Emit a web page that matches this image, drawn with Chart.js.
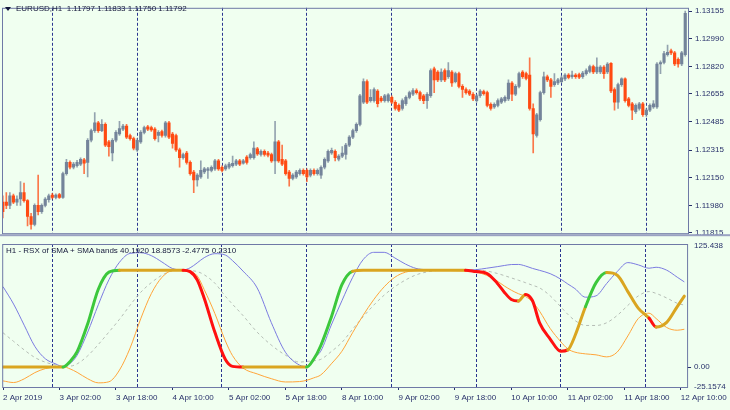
<!DOCTYPE html>
<html>
<head>
<meta charset="utf-8">
<script src="https://cdn.jsdelivr.net/npm/chart.js@4.4.1/dist/chart.umd.min.js"></script>
<style>
  html, body { margin: 0; padding: 0; background: #F0FFF0; }
  #wrap { position: relative; width: 730px; height: 410px; overflow: hidden; background: #F0FFF0; }
  canvas { position: absolute; left: 0; }
  #priceCanvas { top: 0; }
  #rsxCanvas { top: 236px; }
  .lbl { position: absolute; font: 8px "Liberation Sans", Arial, sans-serif; color: #14183a; white-space: pre; line-height: 10px; }
  .tri { position: absolute; left: 5px; top: 7px; width: 0; height: 0;
         border-left: 3px solid transparent; border-right: 3px solid transparent; border-top: 4px solid #14183a; }
</style>
</head>
<body>
<div id="wrap">
  <canvas id="priceCanvas" width="730" height="241"></canvas>
  <canvas id="rsxCanvas" width="730" height="174"></canvas>
  <div class="tri"></div>
  <div class="lbl" style="left:16px;top:4px;">EURUSD,H1  1.11797 1.11833 1.11750 1.11792</div>
  <div class="lbl" style="left:6px;top:246px;">H1 - RSX of SMA + SMA bands 40.1920 18.8573 -2.4775 0.2310</div>
</div>
<script>
// EURUSD H1 candles, 2 Apr 10:00 .. 12 Apr 11:00 (bar index = position)
var opens = [
  1.12000, 1.12000, 1.11980, 1.12038, 1.12000, 1.12019, 1.12057, 1.12009, 1.11913, 1.11865,
  1.11980, 1.11942, 1.11980, 1.12015, 1.12042, 1.12028, 1.12046, 1.12028, 1.12172, 1.12240,
  1.12211, 1.12220, 1.12230, 1.12255, 1.12240, 1.12374, 1.12432, 1.12480, 1.12432, 1.12470,
  1.12364, 1.12297, 1.12374, 1.12412, 1.12441, 1.12460, 1.12403, 1.12384, 1.12316, 1.12364,
  1.12422, 1.12455, 1.12451, 1.12441, 1.12403, 1.12426, 1.12403, 1.12480, 1.12412, 1.12403,
  1.12316, 1.12268, 1.12297, 1.12240, 1.12182, 1.12134, 1.12153, 1.12182, 1.12192, 1.12192,
  1.12201, 1.12249, 1.12211, 1.12201, 1.12211, 1.12220, 1.12230, 1.12249, 1.12236, 1.12272,
  1.12268, 1.12268, 1.12322, 1.12288, 1.12307, 1.12297, 1.12288, 1.12249, 1.12364, 1.12259,
  1.12249, 1.12182, 1.12144, 1.12153, 1.12172, 1.12192, 1.12192, 1.12163, 1.12192, 1.12172,
  1.12163, 1.12211, 1.12249, 1.12297, 1.12307, 1.12259, 1.12278, 1.12288, 1.12345, 1.12393,
  1.12432, 1.12470, 1.12604, 1.12729, 1.12614, 1.12614, 1.12672, 1.12629, 1.12614, 1.12614,
  1.12633, 1.12604, 1.12585, 1.12566, 1.12595, 1.12633, 1.12652, 1.12675, 1.12662, 1.12643,
  1.12614, 1.12643, 1.12806, 1.12787, 1.12739, 1.12796, 1.12758, 1.12787, 1.12729, 1.12777,
  1.12700, 1.12681, 1.12672, 1.12652, 1.12614, 1.12643, 1.12668, 1.12662, 1.12591, 1.12576,
  1.12585, 1.12604, 1.12614, 1.12624, 1.12720, 1.12652, 1.12700, 1.12787, 1.12777, 1.12768,
  1.12566, 1.12403, 1.12499, 1.12662, 1.12758, 1.12739, 1.12710, 1.12720, 1.12729, 1.12745,
  1.12768, 1.12758, 1.12768, 1.12771, 1.12758, 1.12777, 1.12791, 1.12819, 1.12787, 1.12787,
  1.12816, 1.12787, 1.12839, 1.12681, 1.12604, 1.12710, 1.12745, 1.12624, 1.12595, 1.12547,
  1.12566, 1.12595, 1.12528, 1.12556, 1.12576, 1.12576, 1.12835, 1.12844, 1.12892, 1.12915,
  1.12902, 1.12864, 1.12835, 1.12892
];
var highs = [
  1.12038, 1.12057, 1.12057, 1.12048, 1.12038, 1.12124, 1.12115, 1.12015, 1.11932, 1.11990,
  1.12163, 1.11990, 1.12028, 1.12048, 1.12053, 1.12050, 1.12053, 1.12182, 1.12259, 1.12249,
  1.12240, 1.12253, 1.12268, 1.12265, 1.12384, 1.12441, 1.12541, 1.12489, 1.12499, 1.12480,
  1.12374, 1.12384, 1.12432, 1.12489, 1.12470, 1.12470, 1.12412, 1.12393, 1.12384, 1.12432,
  1.12460, 1.12464, 1.12460, 1.12451, 1.12432, 1.12435, 1.12489, 1.12489, 1.12422, 1.12412,
  1.12326, 1.12297, 1.12307, 1.12249, 1.12192, 1.12172, 1.12249, 1.12211, 1.12211, 1.12220,
  1.12259, 1.12259, 1.12220, 1.12230, 1.12240, 1.12278, 1.12259, 1.12259, 1.12259, 1.12282,
  1.12297, 1.12364, 1.12332, 1.12316, 1.12316, 1.12307, 1.12297, 1.12489, 1.12374, 1.12345,
  1.12259, 1.12192, 1.12172, 1.12192, 1.12201, 1.12201, 1.12201, 1.12201, 1.12201, 1.12201,
  1.12220, 1.12268, 1.12316, 1.12326, 1.12316, 1.12288, 1.12336, 1.12355, 1.12403, 1.12441,
  1.12480, 1.12652, 1.12745, 1.12739, 1.12681, 1.12691, 1.12681, 1.12639, 1.12652, 1.12656,
  1.12643, 1.12614, 1.12595, 1.12624, 1.12643, 1.12672, 1.12687, 1.12685, 1.12672, 1.12652,
  1.12662, 1.12806, 1.12816, 1.12796, 1.12806, 1.12806, 1.12844, 1.12796, 1.12787, 1.12787,
  1.12710, 1.12691, 1.12681, 1.12662, 1.12652, 1.12681, 1.12677, 1.12672, 1.12601, 1.12601,
  1.12624, 1.12633, 1.12643, 1.12739, 1.12729, 1.12710, 1.12787, 1.12796, 1.12787, 1.12873,
  1.12595, 1.12537, 1.12672, 1.12787, 1.12768, 1.12748, 1.12777, 1.12748, 1.12764, 1.12777,
  1.12777, 1.12793, 1.12777, 1.12781, 1.12791, 1.12806, 1.12829, 1.12829, 1.12873, 1.12825,
  1.12825, 1.12844, 1.12844, 1.12691, 1.12720, 1.12752, 1.12752, 1.12633, 1.12604, 1.12595,
  1.12604, 1.12604, 1.12566, 1.12595, 1.12614, 1.12844, 1.12854, 1.12912, 1.12950, 1.12925,
  1.12912, 1.12873, 1.12912, 1.13155
];
var lows = [
  1.11904, 1.11961, 1.11961, 1.11990, 1.11980, 1.11980, 1.12000, 1.11856, 1.11836, 1.11856,
  1.11923, 1.11932, 1.11971, 1.12000, 1.12019, 1.12019, 1.12023, 1.12023, 1.12163, 1.12201,
  1.12201, 1.12211, 1.12220, 1.12172, 1.12153, 1.12364, 1.12422, 1.12422, 1.12426, 1.12336,
  1.12278, 1.12249, 1.12364, 1.12403, 1.12432, 1.12384, 1.12374, 1.12316, 1.12307, 1.12355,
  1.12412, 1.12432, 1.12428, 1.12374, 1.12364, 1.12393, 1.12393, 1.12384, 1.12326, 1.12307,
  1.12211, 1.12259, 1.12230, 1.12163, 1.12057, 1.12096, 1.12144, 1.12172, 1.12144, 1.12182,
  1.12192, 1.12192, 1.12182, 1.12192, 1.12201, 1.12211, 1.12220, 1.12220, 1.12230, 1.12230,
  1.12259, 1.12259, 1.12282, 1.12278, 1.12278, 1.12274, 1.12240, 1.12172, 1.12240, 1.12220,
  1.12163, 1.12096, 1.12134, 1.12144, 1.12163, 1.12163, 1.12124, 1.12153, 1.12163, 1.12163,
  1.12144, 1.12201, 1.12240, 1.12288, 1.12249, 1.12249, 1.12268, 1.12259, 1.12336, 1.12384,
  1.12422, 1.12460, 1.12595, 1.12595, 1.12604, 1.12604, 1.12576, 1.12604, 1.12604, 1.12604,
  1.12595, 1.12556, 1.12547, 1.12556, 1.12585, 1.12624, 1.12643, 1.12652, 1.12614, 1.12595,
  1.12566, 1.12633, 1.12662, 1.12729, 1.12729, 1.12729, 1.12748, 1.12700, 1.12720, 1.12691,
  1.12633, 1.12652, 1.12643, 1.12614, 1.12604, 1.12633, 1.12647, 1.12576, 1.12556, 1.12566,
  1.12576, 1.12595, 1.12604, 1.12614, 1.12614, 1.12643, 1.12691, 1.12748, 1.12739, 1.12556,
  1.12297, 1.12393, 1.12489, 1.12652, 1.12729, 1.12633, 1.12700, 1.12710, 1.12720, 1.12735,
  1.12745, 1.12748, 1.12748, 1.12747, 1.12748, 1.12768, 1.12781, 1.12777, 1.12777, 1.12777,
  1.12748, 1.12777, 1.12662, 1.12556, 1.12566, 1.12700, 1.12604, 1.12576, 1.12499, 1.12537,
  1.12556, 1.12518, 1.12518, 1.12547, 1.12566, 1.12566, 1.12777, 1.12835, 1.12883, 1.12892,
  1.12825, 1.12816, 1.12825, 1.12883
];
var closes = [
  1.11942, 1.11980, 1.12038, 1.12000, 1.12019, 1.12057, 1.12009, 1.11913, 1.11865, 1.11980,
  1.11942, 1.11980, 1.12019, 1.12038, 1.12028, 1.12042, 1.12028, 1.12172, 1.12240, 1.12211,
  1.12230, 1.12240, 1.12259, 1.12236, 1.12374, 1.12432, 1.12480, 1.12432, 1.12470, 1.12345,
  1.12336, 1.12374, 1.12422, 1.12445, 1.12460, 1.12393, 1.12384, 1.12326, 1.12374, 1.12422,
  1.12451, 1.12441, 1.12437, 1.12384, 1.12422, 1.12403, 1.12480, 1.12393, 1.12355, 1.12316,
  1.12268, 1.12288, 1.12240, 1.12172, 1.12134, 1.12163, 1.12192, 1.12201, 1.12201, 1.12211,
  1.12249, 1.12201, 1.12192, 1.12220, 1.12230, 1.12234, 1.12249, 1.12230, 1.12249, 1.12240,
  1.12288, 1.12326, 1.12291, 1.12307, 1.12288, 1.12284, 1.12249, 1.12364, 1.12249, 1.12230,
  1.12172, 1.12144, 1.12163, 1.12182, 1.12192, 1.12172, 1.12153, 1.12192, 1.12172, 1.12192,
  1.12211, 1.12259, 1.12307, 1.12313, 1.12268, 1.12278, 1.12297, 1.12345, 1.12393, 1.12432,
  1.12470, 1.12643, 1.12729, 1.12604, 1.12633, 1.12681, 1.12595, 1.12614, 1.12643, 1.12649,
  1.12604, 1.12566, 1.12556, 1.12614, 1.12633, 1.12662, 1.12675, 1.12662, 1.12624, 1.12614,
  1.12652, 1.12796, 1.12739, 1.12739, 1.12787, 1.12739, 1.12796, 1.12720, 1.12777, 1.12700,
  1.12681, 1.12662, 1.12652, 1.12624, 1.12643, 1.12672, 1.12656, 1.12585, 1.12566, 1.12591,
  1.12614, 1.12624, 1.12633, 1.12720, 1.12652, 1.12700, 1.12777, 1.12758, 1.12748, 1.12566,
  1.12412, 1.12528, 1.12662, 1.12758, 1.12739, 1.12700, 1.12729, 1.12739, 1.12752, 1.12768,
  1.12754, 1.12768, 1.12758, 1.12756, 1.12781, 1.12796, 1.12819, 1.12787, 1.12816, 1.12816,
  1.12777, 1.12835, 1.12672, 1.12604, 1.12710, 1.12745, 1.12614, 1.12585, 1.12556, 1.12585,
  1.12595, 1.12528, 1.12556, 1.12585, 1.12595, 1.12835, 1.12844, 1.12898, 1.12906, 1.12902,
  1.12835, 1.12835, 1.12902, 1.13142
];

// midnight separators and time axis labels (bar indexes)
var dayBreakBars = [14, 38, 62, 86, 110, 134, 158, 182];
var timeLabelBars = [0, 16, 32, 48, 64, 80, 96, 112, 128, 144, 160, 176, 192];
var timeLabels = ['2 Apr 2019', '3 Apr 02:00', '3 Apr 18:00', '4 Apr 10:00', '5 Apr 02:00', '5 Apr 18:00',
  '8 Apr 10:00', '9 Apr 02:00', '9 Apr 18:00', '10 Apr 10:00', '11 Apr 02:00', '11 Apr 18:00', '12 Apr 10:00'];
var priceTicks = [1.13155, 1.12990, 1.12820, 1.12655, 1.12485, 1.12315, 1.12150, 1.11980, 1.11815];

// RSX sub-window, sampled at these bars
var subBars = [0, 3, 6, 9, 12, 15, 17, 19, 21, 24, 27, 30, 33, 36, 39, 42, 45, 48, 51, 53,
  55, 57, 60, 63, 65, 68, 72, 76, 80, 84, 86, 88, 90, 93, 96, 99, 102, 105, 108, 111,
  114, 117, 120, 123, 126, 129, 131, 134, 137, 140, 142, 144, 146, 148, 150, 152, 155, 158, 160, 162,
  165, 168, 171, 174, 177, 180, 183, 185, 188, 191, 193];
var rsx = [0, 0, 0, 0, 0, 0, 0, 5.8, 15.9, 44.7, 80.3, 98.0, 100, 100, 100, 100, 100, 100, 100, 98.5,
  90.1, 71.0, 36.1, 7.7, 0.7, 0, 0, 0, 0, 0, 0, 8, 22, 51.5, 85, 98.8, 100, 100, 100, 100,
  100, 100, 100, 100, 100, 100, 100, 98.5, 96.8, 86.6, 77.3, 69.7, 68.2, 75.0, 68.4, 45.6, 28.9, 16.3, 17.7, 32.0,
  62.2, 87.1, 97.5, 94.8, 77.9, 60.5, 50.5, 41.3, 46.1, 62.4, 73.2];
// colour of the segment that starts at each sample: n = neutral, u = up, d = down
var rsxState = ['n', 'n', 'n', 'n', 'n', 'n', 'u', 'u', 'u', 'u', 'u', 'u', 'n', 'n', 'n', 'n', 'n', 'n', 'd', 'd',
  'd', 'd', 'd', 'd', 'd', 'n', 'n', 'n', 'n', 'n', 'u', 'u', 'u', 'u', 'u', 'n', 'n', 'n', 'n', 'n',
  'n', 'n', 'n', 'n', 'n', 'n', 'd', 'd', 'd', 'd', 'd', 'd', 'n', 'd', 'd', 'd', 'd', 'd', 'n', 'n',
  'u', 'u', 'n', 'n', 'n', 'n', 'd', 'n', 'n', 'n', 'n'];
var upperBand = [83.0, 65.0, 43.2, 21.4, 8.5, 3.1, 0.3, 3.7, 12.2, 36.1, 64.3, 90.1, 108.2, 117.3, 118.0, 115.0, 108.5, 101.7, 100.3, 102.4,
  107.5, 112.9, 117.0, 115.6, 109.9, 99.0, 81.6, 45.9, 15.3, 2.0, 0.5, 9.2, 16.3, 43.4, 68.4, 92.2, 110.8, 118.4, 118.4, 112.6,
  106.3, 101.8, 100.4, 100, 100, 100, 100, 100.5, 102.0, 103.6, 104.8, 105.8, 105.9, 104.3, 101.8, 99.8, 96.4, 90.7, 85.7, 81.0,
  72.1, 73.5, 86.2, 98.6, 107.8, 105.4, 102.0, 103.0, 100.0, 92.7, 87.9];
var lowerBand = [-14.3, -16.0, -12.2, -5.8, -1.6, 0, 0.3, -1.9, -5.5, -12.1, -16.3, -15.2, -3.1, 19.6, 49.7, 75.7, 92.5, 99.6, 100, 98.4,
  94.2, 79.9, 55.4, 26.9, 11.9, -1.0, -7.1, -12.0, -15.4, -15.0, -13.7, -11.2, -8.2, 3.3, 16.3, 35.3, 53.3, 69.5, 82.9, 92.7,
  97.9, 99.5, 100, 100, 99.7, 99.4, 99.2, 98.0, 94.7, 88.7, 83.7, 79.3, 75.7, 72.8, 67.2, 57.6, 39.8, 26.2, 18.7, 15.4,
  13.6, 12.6, 10.5, 15.5, 32.1, 50.2, 55.6, 50.1, 40.8, 38.0, 39.0];
var midBand = [35.4, 26.5, 17.7, 9.9, 5.0, 2.1, 1.0, 1.0, 3.3, 11.6, 23.3, 36.1, 49.3, 63.8, 77.1, 87.1, 94.7, 99.3, 99.9, 99.5,
  98.6, 95.2, 86.6, 73.0, 64.9, 53.1, 36.0, 22.7, 12.3, 5.1, 5.8, 6.5, 7.9, 16.0, 25.4, 38.9, 51.8, 63.8, 74.3, 82.9,
  89.8, 95.1, 98.1, 99.7, 100, 100, 100, 99.8, 99.1, 96.6, 94.4, 92.0, 89.6, 87.1, 84.4, 81.7, 73.5, 62.2, 54.4, 48.1,
  42.9, 42.9, 45.7, 53.3, 63.6, 73.5, 77.9, 76.0, 71.3, 65.8, 63.9];
var subTickValues = [125.438, 0, -20.6];
var subTickLabels = ['125.438', '0.00', '-25.1574'];

var BG = '#F0FFF0';
var AXIS = '#27306a';
var FRAME = '#6f79a6';
var BULL = '#74849a', BEAR = '#ff4a12';
var BULL_WICK = 'rgba(116,132,154,0.75)', BEAR_WICK = 'rgba(255,74,18,0.75)';
var rsxColors = { n: '#daa520', u: '#3cc83c', d: '#ff1010' };

Chart.defaults.font.family = '"Liberation Sans", Arial, sans-serif';
Chart.defaults.font.size = 8;
Chart.defaults.color = AXIS;

var framePlugin = {
  id: 'frame',
  afterDraw: function (chart, args, opts) {
    var a = chart.chartArea, ctx = chart.ctx;
    ctx.save();
    ctx.strokeStyle = FRAME;
    ctx.lineWidth = 1;
    ctx.strokeRect(a.left + 0.5, a.top + 0.5, a.right - a.left, a.bottom - a.top);
    if (opts.separator) {
      ctx.fillStyle = '#9aa2c2';
      ctx.fillRect(0, a.bottom + 1, chart.width, 2);
    }
    ctx.restore();
  }
};

var xMin = -0.226, xMax = 193.78;

function isBull(i) { return closes[i] >= opens[i]; }

var bodies = opens.map(function (o, i) { return { x: i, y: [o, closes[i]] }; });
var wicks = lows.map(function (l, i) { return { x: i, y: [l, highs[i]] }; });

new Chart(document.getElementById('priceCanvas'), {
  type: 'bar',
  data: {
    datasets: [{
      data: bodies,
      backgroundColor: function (c) { return isBull(c.dataIndex) ? BULL : BEAR; },
      barThickness: 2.5,
      minBarLength: 1,
      grouped: false
    }, {
      data: wicks,
      backgroundColor: function (c) { return isBull(c.dataIndex) ? BULL_WICK : BEAR_WICK; },
      barThickness: 1,
      grouped: false
    }]
  },
  options: {
    responsive: false,
    animation: false,
    layout: { padding: { left: 2, top: 2, bottom: 2, right: 0 }, autoPadding: false },
    plugins: { legend: { display: false }, tooltip: { enabled: false }, frame: { separator: true } },
    scales: {
      x: {
        type: 'linear', min: xMin, max: xMax, offset: false,
        afterBuildTicks: function (s) { s.ticks = dayBreakBars.map(function (v) { return { value: v }; }); },
        afterFit: function (s) { s.height = 0; },
        ticks: { display: false, autoSkip: false },
        grid: { color: '#2b3590', lineWidth: 1, drawTicks: false, offset: false },
        border: { display: false, dash: [3, 2] }
      },
      y: {
        position: 'right', min: 1.11812, max: 1.13175,
        afterBuildTicks: function (s) { s.ticks = priceTicks.map(function (v) { return { value: v }; }); },
        afterFit: function (s) { s.width = 42; },
        ticks: { autoSkip: false, padding: 3, callback: function (v) { return v.toFixed(5); } },
        grid: { drawOnChartArea: false, tickLength: 4, color: AXIS },
        border: { display: false }
      }
    }
  },
  plugins: [framePlugin]
});

function points(values) {
  return subBars.map(function (b, k) { return { x: b, y: values[k] }; });
}

new Chart(document.getElementById('rsxCanvas'), {
  type: 'line',
  data: {
    datasets: [{
      data: points(rsx),
      borderWidth: 3,
      borderColor: rsxColors.n,
      segment: { borderColor: function (c) { return rsxColors[rsxState[c.p0DataIndex]]; } },
      borderCapStyle: 'round',
      borderJoinStyle: 'round'
    }, {
      data: points(upperBand),
      borderWidth: 1,
      borderColor: '#7b7be0'
    }, {
      data: points(lowerBand),
      borderWidth: 1,
      borderColor: '#ffa53a'
    }, {
      data: points(midBand),
      borderWidth: 1,
      borderColor: '#b5bdb5',
      borderDash: [3, 3]
    }]
  },
  options: {
    responsive: false,
    animation: false,
    layout: { padding: { left: 2, top: 8, bottom: 0, right: 0 }, autoPadding: false },
    elements: { point: { radius: 0 }, line: { cubicInterpolationMode: 'monotone' } },
    plugins: { legend: { display: false }, tooltip: { enabled: false }, frame: { separator: false } },
    scales: {
      x: {
        type: 'linear', position: 'bottom', min: xMin, max: xMax, offset: false,
        afterBuildTicks: function (s) { s.ticks = timeLabelBars.map(function (v) { return { value: v }; }); },
        afterFit: function (s) { s.height = 23; },
        ticks: {
          autoSkip: false, maxRotation: 0, minRotation: 0, align: 'start', padding: 3,
          callback: function (v, i) { return timeLabels[i]; }
        },
        grid: { drawOnChartArea: false, tickLength: 3, color: AXIS, offset: false },
        border: { display: false }
      },
      xd: {
        type: 'linear', position: 'top', min: xMin, max: xMax, offset: false,
        afterBuildTicks: function (s) { s.ticks = dayBreakBars.map(function (v) { return { value: v }; }); },
        afterFit: function (s) { s.height = 0; },
        ticks: { display: false, autoSkip: false },
        grid: { color: '#2b3590', lineWidth: 1, drawTicks: false, offset: false },
        border: { display: false, dash: [3, 2] }
      },
      y: {
        position: 'right', min: -20.6, max: 127,
        afterBuildTicks: function (s) { s.ticks = subTickValues.map(function (v) { return { value: v }; }); },
        afterFit: function (s) { s.width = 42; },
        ticks: { autoSkip: false, padding: 3, callback: function (v, i) { return subTickLabels[i]; } },
        grid: {
          drawOnChartArea: false, tickLength: 4,
          color: function (c) { return c.tick && c.tick.value === 0 ? AXIS : 'rgba(0,0,0,0)'; }
        },
        border: { display: false }
      }
    }
  },
  plugins: [framePlugin]
});
</script>
</body>
</html>
